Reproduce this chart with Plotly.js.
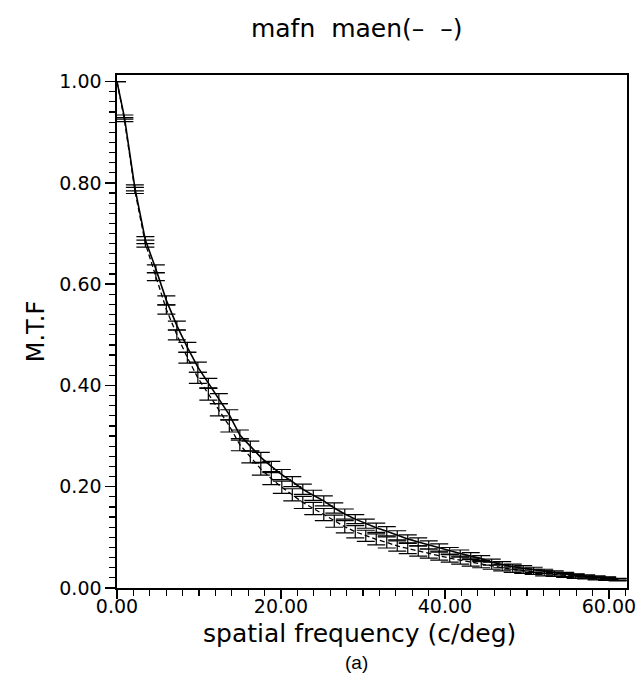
<!DOCTYPE html>
<html>
<head>
<meta charset="utf-8">
<script src="https://cdn.plot.ly/plotly-3.0.1.min.js"></script>
<style>html,body{margin:0;padding:0;background:#fff;}#chart{width:636px;height:677px;}</style>
</head>
<body>
<div id="chart"></div>
<script>
// spatial frequency (c/deg)
const freq = [0, 0.90, 2.18, 3.46, 4.74, 6.02, 7.30, 8.58, 9.86, 11.14, 12.42, 13.70, 14.98, 16.26, 17.54, 18.82, 20.10, 21.38, 22.66, 23.94, 25.22, 26.50, 27.78, 29.06, 30.34, 31.62, 32.90, 34.18, 35.46, 36.74, 38.02, 39.30, 40.58, 41.86, 43.14, 44.42, 45.70, 46.98, 48.26, 49.54, 50.82, 52.10, 53.38, 54.66, 55.94, 57.22, 58.50, 59.78, 61.06];
// mafn (solid)
const mafn = [1.000, 0.930, 0.790, 0.687, 0.630, 0.568, 0.518, 0.475, 0.436, 0.404, 0.374, 0.342, 0.302, 0.280, 0.258, 0.240, 0.224, 0.210, 0.195, 0.183, 0.172, 0.158, 0.146, 0.136, 0.127, 0.119, 0.112, 0.104, 0.097, 0.091, 0.085, 0.079, 0.073, 0.068, 0.063, 0.058, 0.051, 0.046, 0.042, 0.039, 0.036, 0.033, 0.030, 0.027, 0.025, 0.023, 0.021, 0.019, 0.017];
const mafnErr = [0, 0.004, 0.006, 0.007, 0.008, 0.009, 0.009, 0.010, 0.010, 0.010, 0.010, 0.010, 0.010, 0.010, 0.010, 0.010, 0.010, 0.010, 0.010, 0.010, 0.010, 0.010, 0.010, 0.009, 0.009, 0.009, 0.009, 0.009, 0.008, 0.008, 0.008, 0.008, 0.007, 0.007, 0.007, 0.006, 0.006, 0.006, 0.005, 0.005, 0.005, 0.004, 0.004, 0.004, 0.003, 0.003, 0.003, 0.003, 0.002];
// maen (dashed)
const maen = [1.000, 0.925, 0.785, 0.680, 0.615, 0.550, 0.500, 0.455, 0.415, 0.383, 0.352, 0.320, 0.283, 0.259, 0.235, 0.216, 0.199, 0.184, 0.169, 0.157, 0.145, 0.132, 0.121, 0.111, 0.103, 0.096, 0.090, 0.083, 0.078, 0.073, 0.068, 0.064, 0.059, 0.055, 0.051, 0.047, 0.044, 0.040, 0.037, 0.034, 0.032, 0.029, 0.027, 0.025, 0.023, 0.021, 0.019, 0.018, 0.016];
const maenErr = [0, 0.004, 0.006, 0.007, 0.008, 0.009, 0.010, 0.011, 0.011, 0.012, 0.012, 0.012, 0.012, 0.012, 0.012, 0.012, 0.012, 0.012, 0.012, 0.012, 0.012, 0.012, 0.012, 0.012, 0.011, 0.011, 0.011, 0.010, 0.010, 0.010, 0.009, 0.009, 0.008, 0.008, 0.008, 0.007, 0.007, 0.006, 0.006, 0.005, 0.005, 0.005, 0.004, 0.004, 0.004, 0.003, 0.003, 0.003, 0.002];
const xTicks = [0, 20, 40, 60];
const xTickText = ['0.00', '20.00', '40.00', '60.00'];
const yTicks = [0, 0.2, 0.4, 0.6, 0.8, 1.0];
const yTickText = ['0.00', '0.20', '0.40', '0.60', '0.80', '1.00'];

const FONT = 'DejaVu Sans, sans-serif';
const INK = '#000';
const traces = [
  {x: freq, y: mafn, mode: 'lines', name: 'mafn', line: {color: INK, width: 1.6},
   error_y: {type: 'data', array: mafnErr, visible: true, color: INK, thickness: 1.2, width: 9}},
  {x: freq, y: maen, mode: 'lines', name: 'maen', line: {color: INK, width: 1.3, dash: '5px,3px'},
   error_y: {type: 'data', array: maenErr, visible: true, color: INK, thickness: 1.2, width: 9}}
];
const layout = {
  width: 636, height: 677,
  margin: {l: 117, r: 9, t: 75, b: 89},
  paper_bgcolor: '#fff', plot_bgcolor: '#fff',
  showlegend: false,
  font: {family: FONT, color: INK},
  title: {text: 'mafn  maen(–  –)', x: 0.47, xref: 'paper', xanchor: 'center', y: 0.959, yanchor: 'middle',
          font: {family: FONT, size: 25, color: INK}},
  xaxis: {range: [0, 62.2], tickmode: 'array', tickvals: xTicks, ticktext: xTickText,
          ticks: 'outside', ticklen: 9, tickwidth: 1.3, tickcolor: INK,
          minor: {dtick: 2, tick0: 0, ticks: 'outside', ticklen: 6, tickwidth: 1.2, tickcolor: INK, showgrid: false},
          showline: true, linecolor: INK, linewidth: 1.6, mirror: true,
          showgrid: false, zeroline: false, ticklabelstandoff: -8, ticklabeloverflow: 'allow',
          tickfont: {family: FONT, size: 19, color: INK},
          title: {text: ''}},
  yaxis: {range: [0, 1.013], tickmode: 'array', tickvals: yTicks, ticktext: yTickText,
          ticks: 'outside', ticklen: 10, tickwidth: 1.3, tickcolor: INK,
          minor: {dtick: 0.02, tick0: 0, ticks: 'outside', ticklen: 6, tickwidth: 1.2, tickcolor: INK, showgrid: false},
          showline: true, linecolor: INK, linewidth: 1.6, mirror: true,
          showgrid: false, zeroline: false,
          tickfont: {family: FONT, size: 19, color: INK},
          title: {text: 'M.T.F', standoff: 8, font: {family: FONT, size: 24, color: INK}}},
  annotations: [
    {text: 'spatial frequency (c/deg)', xref: 'paper', yref: 'paper', x: (359 - 117) / 510, y: -(633 - 588) / 513,
     xanchor: 'center', yanchor: 'middle', showarrow: false, font: {family: FONT, size: 25, color: INK}},
    {text: '(a)', xref: 'paper', yref: 'paper', x: 0.47, y: -(662 - 588) / 513, yanchor: 'middle',
     showarrow: false, font: {family: 'Liberation Sans, Arial, sans-serif', size: 19, color: INK}}
  ]
};
Plotly.newPlot('chart', traces, layout, {displayModeBar: false, staticPlot: true});
</script>
</body>
</html>
